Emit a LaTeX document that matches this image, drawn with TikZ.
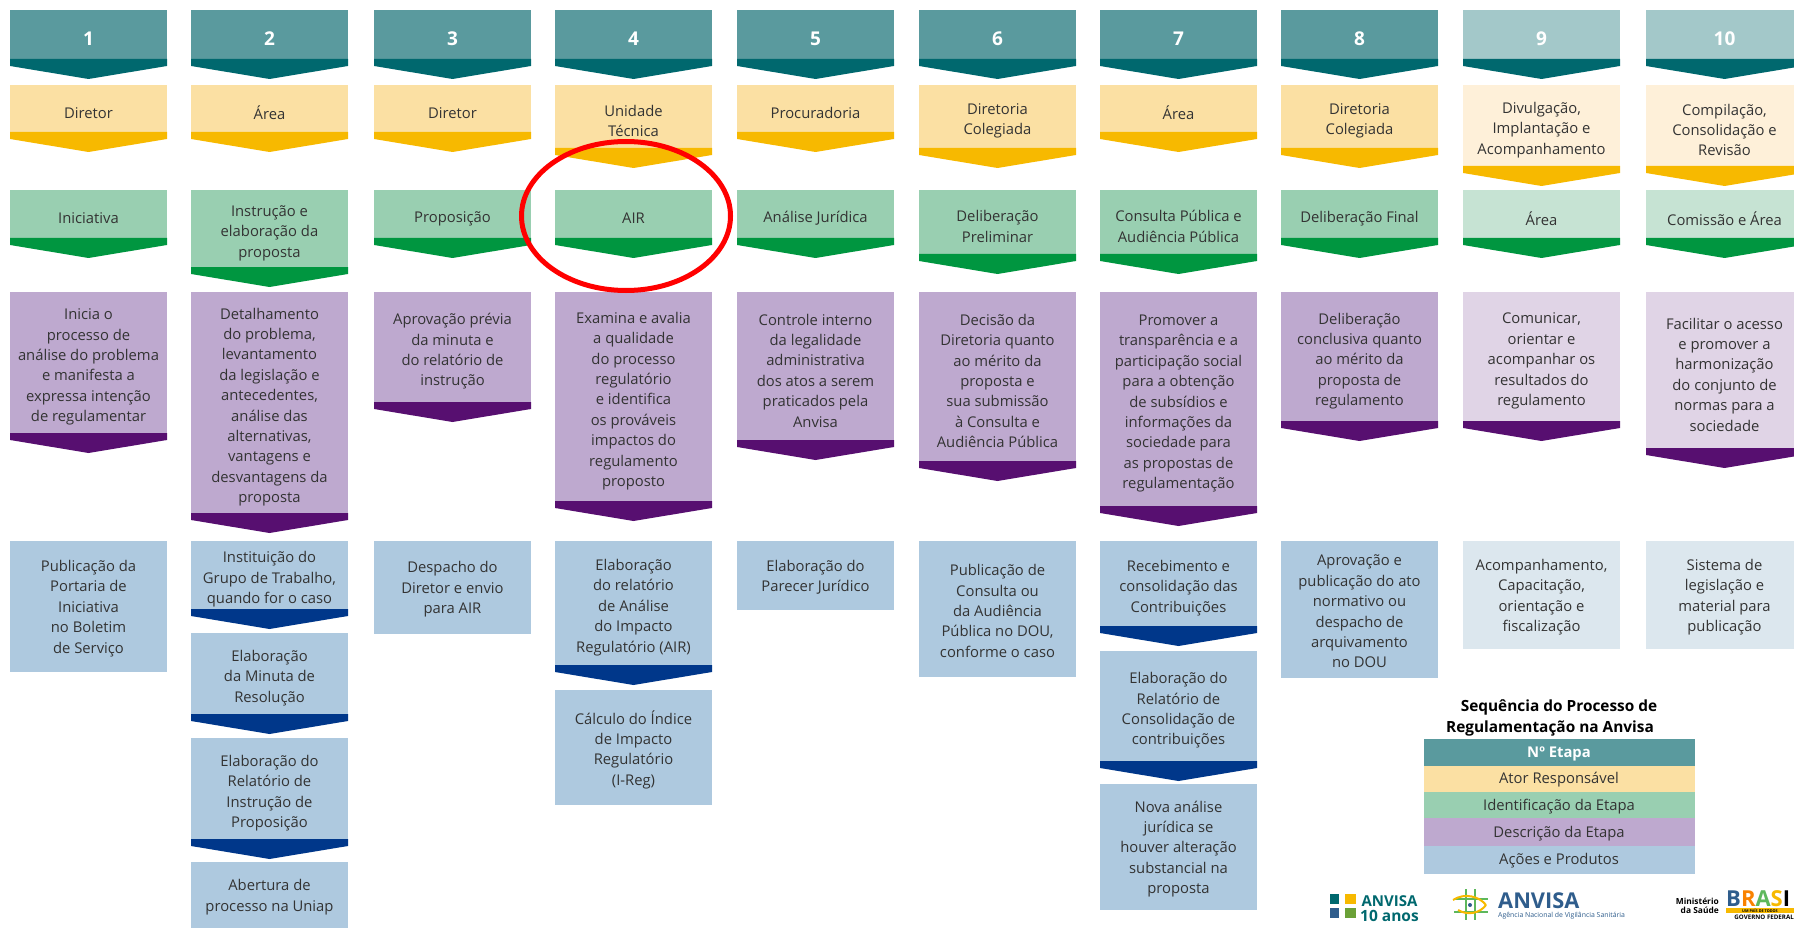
\documentclass[tikz,border=0pt]{standalone}
\usepackage{fontspec}
\setmainfont{Open Sans}
\definecolor{tealC}{HTML}{5A9A9E}
\definecolor{tealE}{HTML}{00686E}
\definecolor{tealP}{HTML}{A3C8C9}
\definecolor{amareloC}{HTML}{FBE0A3}
\definecolor{amareloE}{HTML}{F7B900}
\definecolor{amareloP}{HTML}{FEF0D9}
\definecolor{verdeC}{HTML}{99CFB1}
\definecolor{verdeE}{HTML}{009640}
\definecolor{verdeP}{HTML}{C6E3D3}
\definecolor{roxoC}{HTML}{BEA9CF}
\definecolor{roxoE}{HTML}{570F70}
\definecolor{roxoP}{HTML}{E0D4E6}
\definecolor{azulC}{HTML}{AEC9DF}
\definecolor{azulE}{HTML}{00378A}
\definecolor{azulP}{HTML}{DCE7EE}
\definecolor{anvisaA}{HTML}{2F5D8C}
\definecolor{anvisaV}{HTML}{5DB85C}
\tikzset{
  texto/.style={align=center,font=\fontsize{14.8}{20.4}\selectfont,text=black!80,inner sep=0pt},
  legenda/.style={font=\fontsize{14.8}{16}\selectfont,text=black!80,inner sep=0pt},
  titulo/.style={font=\fontsize{15.4}{21}\selectfont\bfseries,inner sep=0pt,align=center},
  logo/.style={inner sep=0pt,font=\bfseries},
}
% numero da etapa
\newcommand{\nr}[1]{\bfseries\color{white}\fontsize{19}{20}\selectfont #1}
% caixa com seta: nome, x, topo, faixa, cor, cor da seta, texto
\newcommand{\bloco}[7]{
  \fill[#5] (#2,-#3) rectangle ({#2+157},-#4);
  \fill[#6] (#2,-#4) -- ({#2+157},-#4) -- ({#2+157},{-#4-7}) -- ({#2+78.5},{-#4-20}) -- (#2,{-#4-7}) -- cycle;
  \node[texto] (#1) at ({#2+78.5},{-(#3+#4+7)/2-1}) {#7};
}
% caixa sem seta: nome, x, topo, base, cor, texto
\newcommand{\caixa}[6]{
  \fill[#5] (#2,-#3) rectangle ({#2+157},-#4);
  \node[texto] (#1) at ({#2+78.5},{-(#3+#4)/2-2}) {#6};
}
\begin{document}
\begin{tikzpicture}[x=1pt,y=1pt]
  \useasboundingbox (0,0) rectangle (1794,-928);

  % etapa 1
  \bloco{num1}{10}{10}{59}{tealC}{tealE}{\nr{1}}
  \bloco{ator1}{10}{85}{132}{amareloC}{amareloE}{Diretor}
  \bloco{id1}{10}{190}{238}{verdeC}{verdeE}{Iniciativa}
  \bloco{desc1}{10}{292}{433}{roxoC}{roxoE}{Inicia o\\processo de\\análise do problema\\e manifesta a\\expressa intenção\\de regulamentar}
  \caixa{acao1}{10}{541}{672}{azulC}{Publicação da\\Portaria de\\Iniciativa\\no Boletim\\de Serviço}

  % etapa 2
  \bloco{num2}{191}{10}{59}{tealC}{tealE}{\nr{2}}
  \bloco{ator2}{191}{85}{132}{amareloC}{amareloE}{Área}
  \bloco{id2}{191}{190}{267}{verdeC}{verdeE}{Instrução e\\elaboração da\\proposta}
  \bloco{desc2}{191}{292}{513}{roxoC}{roxoE}{Detalhamento\\do problema,\\levantamento\\da legislação e\\antecedentes,\\análise das\\alternativas,\\vantagens e\\desvantagens da\\proposta}
  \bloco{acao2a}{191}{541}{609}{azulC}{azulE}{Instituição do\\Grupo de Trabalho,\\quando for o caso}
  \bloco{acao2b}{191}{633}{714}{azulC}{azulE}{Elaboração\\da Minuta de\\Resolução}
  \bloco{acao2c}{191}{738}{839}{azulC}{azulE}{Elaboração do\\Relatório de\\Instrução de\\Proposição}
  \caixa{acao2d}{191}{862}{928}{azulC}{Abertura de\\processo na Uniap}

  % etapa 3
  \bloco{num3}{374}{10}{59}{tealC}{tealE}{\nr{3}}
  \bloco{ator3}{374}{85}{132}{amareloC}{amareloE}{Diretor}
  \bloco{id3}{374}{190}{238}{verdeC}{verdeE}{Proposição}
  \bloco{desc3}{374}{292}{402}{roxoC}{roxoE}{Aprovação prévia\\da minuta e\\do relatório de\\instrução}
  \caixa{acao3}{374}{541}{634}{azulC}{Despacho do\\Diretor e envio\\para AIR}

  % etapa 4
  \bloco{num4}{555}{10}{59}{tealC}{tealE}{\nr{4}}
  \bloco{ator4}{555}{85}{148}{amareloC}{amareloE}{Unidade\\Técnica}
  \bloco{id4}{555}{190}{238}{verdeC}{verdeE}{AIR}
  \bloco{desc4}{555}{292}{501}{roxoC}{roxoE}{Examina e avalia\\a qualidade\\do processo\\regulatório\\e identifica\\os prováveis\\impactos do\\regulamento\\proposto}
  \bloco{acao4a}{555}{541}{665}{azulC}{azulE}{Elaboração\\do relatório\\de Análise\\do Impacto\\Regulatório (AIR)}
  \caixa{acao4b}{555}{690}{805}{azulC}{Cálculo do Índice\\de Impacto\\Regulatório\\(I-Reg)}

  % etapa 5
  \bloco{num5}{737}{10}{59}{tealC}{tealE}{\nr{5}}
  \bloco{ator5}{737}{85}{132}{amareloC}{amareloE}{Procuradoria}
  \bloco{id5}{737}{190}{238}{verdeC}{verdeE}{Análise Jurídica}
  \bloco{desc5}{737}{292}{440}{roxoC}{roxoE}{Controle interno\\da legalidade\\administrativa\\dos atos a serem\\praticados pela\\Anvisa}
  \caixa{acao5}{737}{541}{610}{azulC}{Elaboração do\\Parecer Jurídico}

  % etapa 6
  \bloco{num6}{919}{10}{59}{tealC}{tealE}{\nr{6}}
  \bloco{ator6}{919}{85}{148}{amareloC}{amareloE}{Diretoria\\Colegiada}
  \bloco{id6}{919}{190}{254}{verdeC}{verdeE}{Deliberação\\Preliminar}
  \bloco{desc6}{919}{292}{461}{roxoC}{roxoE}{Decisão da\\Diretoria quanto\\ao mérito da\\proposta e\\sua submissão\\à Consulta e\\Audiência Pública}
  \caixa{acao6}{919}{541}{677}{azulC}{Publicação de\\Consulta ou\\da Audiência\\Pública no DOU,\\conforme o caso}

  % etapa 7
  \bloco{num7}{1100}{10}{59}{tealC}{tealE}{\nr{7}}
  \bloco{ator7}{1100}{85}{132}{amareloC}{amareloE}{Área}
  \bloco{id7}{1100}{190}{254}{verdeC}{verdeE}{Consulta Pública e\\Audiência Pública}
  \bloco{desc7}{1100}{292}{506}{roxoC}{roxoE}{Promover a\\transparência e a\\participação social\\para a obtenção\\de subsídios e\\informações da\\sociedade para\\as propostas de\\regulamentação}
  \bloco{acao7a}{1100}{541}{626}{azulC}{azulE}{Recebimento e\\consolidação das\\Contribuições}
  \bloco{acao7b}{1100}{651}{761}{azulC}{azulE}{Elaboração do\\Relatório de\\Consolidação de\\contribuições}
  \caixa{acao7c}{1100}{784}{910}{azulC}{Nova análise\\jurídica se\\houver alteração\\substancial na\\proposta}

  % etapa 8
  \bloco{num8}{1281}{10}{59}{tealC}{tealE}{\nr{8}}
  \bloco{ator8}{1281}{85}{148}{amareloC}{amareloE}{Diretoria\\Colegiada}
  \bloco{id8}{1281}{190}{238}{verdeC}{verdeE}{Deliberação Final}
  \bloco{desc8}{1281}{292}{421}{roxoC}{roxoE}{Deliberação\\conclusiva quanto\\ao mérito da\\proposta de\\regulamento}
  \caixa{acao8}{1281}{541}{678}{azulC}{Aprovação e\\publicação do ato\\normativo ou\\despacho de\\arquivamento\\no DOU}

  % etapa 9
  \bloco{num9}{1463}{10}{59}{tealP}{tealE}{\nr{9}}
  \bloco{ator9}{1463}{85}{166}{amareloP}{amareloE}{Divulgação,\\Implantação e\\Acompanhamento}
  \bloco{id9}{1463}{190}{238}{verdeP}{verdeE}{Área}
  \bloco{desc9}{1463}{292}{421}{roxoP}{roxoE}{Comunicar,\\orientar e\\acompanhar os\\resultados do\\regulamento}
  \caixa{acao9}{1463}{541}{649}{azulP}{Acompanhamento,\\Capacitação,\\orientação e\\fiscalização}

  % etapa 10
  \bloco{num10}{1646}{10}{59}{tealP}{tealE}{\nr{10}}
  \bloco{ator10}{1646}{85}{166}{amareloP}{amareloE}{Compilação,\\Consolidação e\\Revisão}
  \bloco{id10}{1646}{190}{238}{verdeP}{verdeE}{Comissão e Área}
  \bloco{desc10}{1646}{292}{448}{roxoP}{roxoE}{Facilitar o acesso\\e promover a\\harmonização\\do conjunto de\\normas para a\\sociedade}
  \caixa{acao10}{1646}{541}{649}{azulP}{Sistema de\\legislação e\\material para\\publicação}

  % destaque
  \draw[red,line width=5pt] (626,-216) ellipse (104.5 and 74.5);

  % legenda
  \node[titulo] (titulo1) at (1559,-707) {Sequência do Processo de};
  \node[titulo] (titulo2) at (1550,-728) {Regulamentação na Anvisa};
  \fill[tealC] (1424,-739) rectangle (1695,-766);
  \fill[amareloC] (1424,-766) rectangle (1695,-792);
  \fill[verdeC] (1424,-792) rectangle (1695,-818);
  \fill[roxoC] (1424,-818) rectangle (1695,-846);
  \fill[azulC] (1424,-846) rectangle (1695,-874);
  \node[legenda,text=white,font=\fontsize{14.8}{16}\selectfont\bfseries] (leg1) at (1559,-754) {Nº Etapa};
  \node[legenda] (leg2) at (1559,-780) {Ator Responsável};
  \node[legenda] (leg3) at (1559,-807) {Identificação da Etapa};
  \node[legenda] (leg4) at (1559,-834) {Descrição da Etapa};
  \node[legenda] (leg5) at (1559,-861) {Ações e Produtos};

  % logo 10 anos
  \fill[tealE] (1330,-894) rectangle (1339,-904);
  \fill[amareloE] (1345,-894) rectangle (1356,-904);
  \fill[anvisaA] (1330,-908) rectangle (1339,-918);
  \fill[anvisaV!60!olive] (1345,-908) rectangle (1356,-918);
  \node[logo,font=\fontsize{15}{15}\selectfont\bfseries,text=tealE] (anos1) at (1389.5,-901) {ANVISA};
  \node[logo,font=\fontsize{15.5}{15}\selectfont\bfseries,text=tealE] (anos2) at (1389.5,-916) {10 anos};

  % logo anvisa
  \draw[anvisaV,line width=1.5pt] (1466,-889) -- (1466,-920);
  \draw[anvisaV,line width=1.5pt] (1475,-889) -- (1475,-920);
  \draw[anvisaV,line width=1.5pt] (1454,-899) -- (1488,-899);
  \draw[anvisaV,line width=1.5pt] (1454,-912) -- (1488,-912);
  \draw[amareloE,line width=2pt] (1453,-900) .. controls (1465,-892) and (1480,-897) .. (1486,-905);
  \draw[amareloE,line width=2pt] (1458,-910) .. controls (1468,-916) and (1480,-913) .. (1486,-905);
  \fill[anvisaA] (1470,-905) circle (2pt);
  \node[logo,font=\fontsize{21.8}{22}\selectfont\bfseries,text=anvisaA,anchor=west] (anvisa) at (1498,-900.5) {ANVISA};
  \node[logo,font=\fontsize{6.9}{8}\selectfont,text=anvisaA,anchor=west] (agencia) at (1498,-916) {Agência Nacional de Vigilância Sanitária};

  % logo ministerio
  \node[logo,font=\fontsize{8.4}{9}\selectfont\bfseries,align=right,anchor=east] (ministerio) at (1719,-906) {Ministério\\da Saúde};
  \node[logo,font=\fontsize{22}{22}\selectfont\bfseries,anchor=west] (brasil) at (1726,-898.5) {\textcolor{anvisaA}{B}\textcolor{amareloE!70!red}{R}\textcolor{anvisaV}{A}\textcolor{amareloE}{S}\textcolor{black}{I}};
  \fill[amareloE] (1726,-908) rectangle (1794,-912.5);
  \node[logo,font=\fontsize{3.8}{4}\selectfont\bfseries,anchor=center] (slogan) at (1760,-910.5) {UM PAÍS DE TODOS};
  \node[logo,font=\fontsize{6.2}{7}\selectfont\bfseries,anchor=east] (governo) at (1794,-917) {GOVERNO FEDERAL};
\end{tikzpicture}
\end{document}
